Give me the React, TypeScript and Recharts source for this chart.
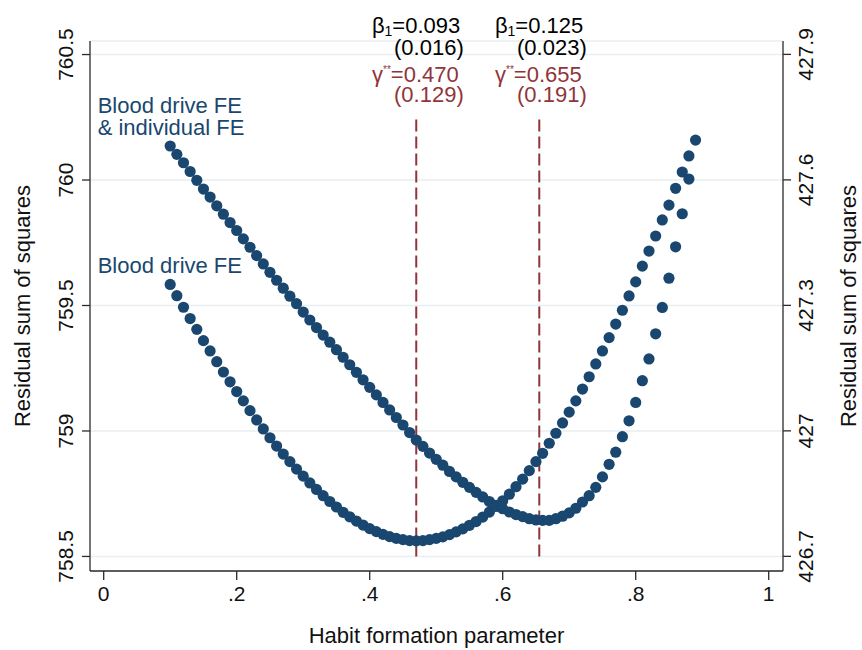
import React from "react";
import {
  ScatterChart,
  Scatter,
  XAxis,
  YAxis,
  CartesianGrid,
  ReferenceLine,
  ReferenceDot,
} from "recharts";

// habit formation grid (gamma)
const gammaGrid = [
  0.1, 0.11, 0.12, 0.13, 0.14, 0.15, 0.16, 0.17, 0.18, 0.19,
  0.2, 0.21, 0.22, 0.23, 0.24, 0.25, 0.26, 0.27, 0.28, 0.29,
  0.3, 0.31, 0.32, 0.33, 0.34, 0.35, 0.36, 0.37, 0.38, 0.39,
  0.4, 0.41, 0.42, 0.43, 0.44, 0.45, 0.46, 0.47, 0.48, 0.49,
  0.5, 0.51, 0.52, 0.53, 0.54, 0.55, 0.56, 0.57, 0.58, 0.59,
  0.6, 0.61, 0.62, 0.63, 0.64, 0.65, 0.66, 0.67, 0.68, 0.69,
  0.7, 0.71, 0.72, 0.73, 0.74, 0.75, 0.76, 0.77, 0.78, 0.79,
  0.8, 0.81, 0.82, 0.83, 0.84, 0.85, 0.86, 0.87, 0.88, 0.89,
];

// RSS, blood drive FE only (left axis)
const rssBloodDriveFE = [
  759.584, 759.539, 759.493, 759.448, 759.405, 759.36, 759.319, 759.276, 759.235, 759.196,
  759.157, 759.12, 759.081, 759.044, 759.008, 758.973, 758.94, 758.908, 758.878, 758.848,
  758.82, 758.793, 758.767, 758.742, 758.719, 758.697, 758.676, 758.658, 758.641, 758.625,
  758.611, 758.599, 758.588, 758.579, 758.572, 758.567, 758.563, 758.562, 758.563, 758.567,
  758.572, 758.578, 758.587, 758.598, 758.61, 758.624, 758.639, 758.657, 758.677, 758.699,
  758.722, 758.748, 758.778, 758.808, 758.842, 758.878, 758.911, 758.951, 758.991, 759.032,
  759.075, 759.12, 759.167, 759.216, 759.267, 759.319, 759.372, 759.426, 759.481, 759.538,
  759.594, 759.657, 759.717, 759.777, 759.841, 759.9, 759.967, 760.032, 760.096, 760.159,
];

// RSS, blood drive FE & individual FE (right axis), gamma .10 - .88
const rssBloodDriveIndivFE = [
  427.681, 427.661, 427.641, 427.62, 427.599, 427.578, 427.559, 427.538, 427.518, 427.498,
  427.479, 427.459, 427.439, 427.419, 427.399, 427.379, 427.36, 427.341, 427.322, 427.304,
  427.284, 427.265, 427.247, 427.229, 427.212, 427.194, 427.176, 427.158, 427.14, 427.122,
  427.104, 427.086, 427.068, 427.05, 427.032, 427.014, 426.996, 426.978, 426.963, 426.947,
  426.932, 426.918, 426.903, 426.89, 426.877, 426.865, 426.853, 426.842, 426.831, 426.822,
  426.814, 426.806, 426.8, 426.795, 426.79, 426.787, 426.786, 426.786, 426.79, 426.796,
  426.804, 426.815, 426.83, 426.845, 426.865, 426.89, 426.92, 426.949, 426.986, 427.024,
  427.068, 427.12, 427.172, 427.232, 427.295, 427.365, 427.44, 427.519, 427.602,
];

const xTicks = [0, 0.2, 0.4, 0.6, 0.8, 1];
const leftTicks = [758.5, 759, 759.5, 760, 760.5];
const rightTicks = [426.7, 427, 427.3, 427.6, 427.9];

// estimated optimum and coefficients shown above each dashed line
const optimumGamma = [0.47, 0.655];
const betaText = ["0.093", "0.125"];
const betaSeText = ["(0.016)", "(0.023)"];
const gammaText = ["0.470", "0.655"];
const gammaSeText = ["(0.129)", "(0.191)"];

const NAVY = "#1a476f";
const MAROON = "#90353b";
const AXIS = "#2b2b2b";
const FONT = "'Liberation Sans', Arial, Helvetica, sans-serif";

const bdData = gammaGrid.map((g, i) => ({ x: g, y: rssBloodDriveFE[i] }));
const bdIndData = rssBloodDriveIndivFE.map((v, i) => ({ x: gammaGrid[i], y: v }));

const fmtX = (v: number) => (v > 0 && v < 1 ? String(v).replace(/^0/, "") : String(v));

const XTick = ({ x, y, payload }: any) => (
  <text x={x} y={y + 19} textAnchor="middle" fontSize={21} fontFamily={FONT} fill="#111">
    {fmtX(payload.value)}
  </text>
);

const LeftTick = ({ x, y, payload }: any) => {
  const bx = x - 7;
  return (
    <text
      x={bx}
      y={y}
      transform={`rotate(-90 ${bx} ${y})`}
      textAnchor="middle"
      fontSize={21}
      fontFamily={FONT}
      fill="#111"
    >
      {String(payload.value)}
    </text>
  );
};

const RightTick = ({ x, y, payload }: any) => {
  const bx = x + 20;
  return (
    <text
      x={bx}
      y={y}
      transform={`rotate(-90 ${bx} ${y})`}
      textAnchor="middle"
      fontSize={21}
      fontFamily={FONT}
      fill="#111"
    >
      {String(payload.value)}
    </text>
  );
};

const dot = (p: any) => <circle cx={p.cx} cy={p.cy} r={5.6} fill={NAVY} />;

const estimateLabel = (i: number) => (p: any) => {
  const { x, y } = p.viewBox;
  return (
    <g fontFamily={FONT} fontSize={22}>
      <text x={x + 44} y={y - 84} textAnchor="end" fill="#000">
        β<tspan fontSize={14} dy={3}>1</tspan>
        <tspan dy={-3}>={betaText[i]}</tspan>
      </text>
      <text x={x + 47.5} y={y - 62.5} textAnchor="end" fill="#000">
        {betaSeText[i]}
      </text>
      <text x={x + 42.5} y={y - 35} textAnchor="end" fill={MAROON}>
        γ<tspan fontSize={10} dy={-9}>**</tspan>
        <tspan dy={9}>={gammaText[i]}</tspan>
      </text>
      <text x={x + 47.5} y={y - 15} textAnchor="end" fill={MAROON}>
        {gammaSeText[i]}
      </text>
    </g>
  );
};

export default function App() {
  return (
    <div style={{ position: "absolute", left: 0, top: 0 }}>
      <ScatterChart width={862} height={650} margin={{ top: 41, right: 0, bottom: 0, left: 0 }}>
        <CartesianGrid yAxisId="left" vertical={false} stroke="#e8eef1" strokeWidth={1.5} />
        <XAxis
          type="number"
          dataKey="x"
          domain={[-0.0206, 1.0215]}
          ticks={xTicks}
          allowDataOverflow
          height={79}
          stroke={AXIS}
          strokeWidth={1.3}
          tickSize={9}
          tick={<XTick />}
          label={(p: any) => {
            const vb = p.viewBox;
            return (
              <text x={vb.x + vb.width / 2} y={vb.y + 72} textAnchor="middle" fontSize={22} fontFamily={FONT} fill="#111">
                Habit formation parameter
              </text>
            );
          }}
        />
        <YAxis
          yAxisId="left"
          orientation="left"
          type="number"
          dataKey="y"
          domain={[758.442, 760.554]}
          ticks={leftTicks}
          allowDataOverflow
          width={90}
          stroke={AXIS}
          strokeWidth={1.3}
          tickSize={8}
          tick={<LeftTick />}
          label={(p: any) => {
            const vb = p.viewBox;
            const cx = 30;
            const cy = vb.y + vb.height / 2;
            return (
              <text x={cx} y={cy} transform={`rotate(-90 ${cx} ${cy})`} textAnchor="middle" fontSize={22} fontFamily={FONT} fill="#111">
                Residual sum of squares
              </text>
            );
          }}
        />
        <YAxis
          yAxisId="right"
          orientation="right"
          type="number"
          dataKey="y"
          domain={[426.665, 427.932]}
          ticks={rightTicks}
          allowDataOverflow
          width={79}
          stroke={AXIS}
          strokeWidth={1.3}
          tickSize={8}
          tick={<RightTick />}
          label={(p: any) => {
            const vb = p.viewBox;
            const cx = 856;
            const cy = vb.y + vb.height / 2;
            return (
              <text x={cx} y={cy} transform={`rotate(-90 ${cx} ${cy})`} textAnchor="middle" fontSize={22} fontFamily={FONT} fill="#111">
                Residual sum of squares
              </text>
            );
          }}
        />
        <Scatter yAxisId="left" data={bdData} shape={dot} isAnimationActive={false} />
        <Scatter yAxisId="right" data={bdIndData} shape={dot} isAnimationActive={false} />
        {optimumGamma.map((g, i) => (
          <ReferenceLine
            key={g}
            yAxisId="left"
            segment={[
              { x: g, y: 758.5 },
              { x: g, y: 760.25 },
            ]}
            stroke={MAROON}
            strokeWidth={2}
            strokeDasharray="12 5"
            label={estimateLabel(i)}
          />
        ))}
        <ReferenceDot
          yAxisId="right"
          x={gammaGrid[0]}
          y={rssBloodDriveIndivFE[0]}
          r={0}
          fill="none"
          stroke="none"
          label={(p: any) => {
            const { x, y } = p.viewBox;
            return (
              <g fontFamily={FONT} fontSize={22} fill={NAVY}>
                <text x={x - 72.5} y={y - 33.3}>Blood drive FE</text>
                <text x={x - 72.5} y={y - 11}>&amp; individual FE</text>
              </g>
            );
          }}
        />
        <ReferenceDot
          yAxisId="left"
          x={gammaGrid[0]}
          y={rssBloodDriveFE[0]}
          r={0}
          fill="none"
          stroke="none"
          label={(p: any) => {
            const { x, y } = p.viewBox;
            return (
              <text x={x - 72.5} y={y - 11.8} fontFamily={FONT} fontSize={22} fill={NAVY}>
                Blood drive FE
              </text>
            );
          }}
        />
      </ScatterChart>
    </div>
  );
}
